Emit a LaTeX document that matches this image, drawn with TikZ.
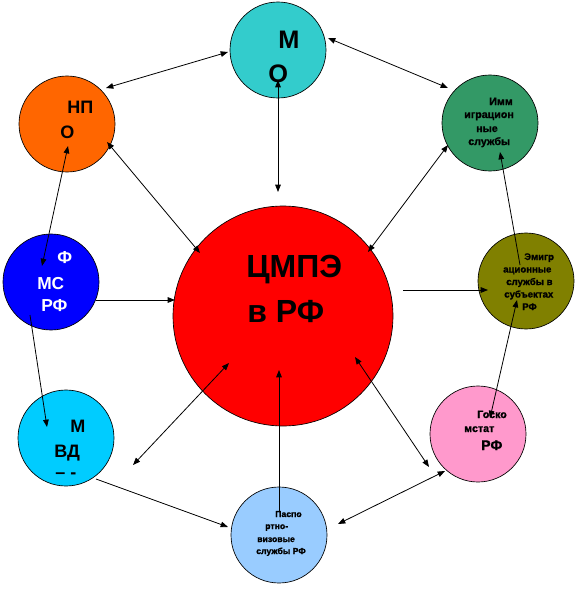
\documentclass[tikz,border=0pt]{standalone}
\usepackage{fontspec}
\setmainfont{Liberation Sans}
\newfontfamily\heavyfont[FakeBold=1.2]{Liberation Sans Bold}
\usetikzlibrary{calc,arrows.meta}
\definecolor{cmo}{HTML}{33CCCC}
\definecolor{cnpo}{HTML}{FF6600}
\definecolor{cfms}{HTML}{0000FF}
\definecolor{cmvd}{HTML}{00CCFF}
\definecolor{cpvs}{HTML}{99CCFF}
\definecolor{cgsk}{HTML}{FF99CC}
\definecolor{cemi}{HTML}{808000}
\definecolor{cimm}{HTML}{339966}
\definecolor{ccen}{HTML}{FF0000}
\tikzset{
  bub/.style={circle, draw=black, line width=0.5pt, minimum size=72pt, inner sep=0pt},
  big/.style={circle, draw=black, line width=0.5pt, minimum size=165pt, inner sep=0pt},
  txt/.style={anchor=base west, inner sep=0pt, font=\bfseries\fontsize{#1}{#1}\selectfont},
  stxt/.style={anchor=base west, inner sep=0pt, font=\heavyfont\fontsize{#1}{#1}\selectfont},
  arr/.style={-{Triangle[length=5.5pt,width=4.2pt]}, line width=0.6pt},
  darr/.style={{Triangle[length=5.5pt,width=4.2pt]}-{Triangle[length=5.5pt,width=4.2pt]}, line width=0.6pt}
}
\begin{document}
\begin{tikzpicture}[x=0.75pt,y=-0.75pt]
\useasboundingbox (0,0) rectangle (579,589);
% circles
\node[big, fill=ccen] (c) at (283,316) {};
\node[bub, fill=cmo]  (mo)  at (278,50) {};
\node[bub, fill=cnpo] (npo) at (67,124) {};
\node[bub, fill=cfms] (fms) at (51,282) {};
\node[bub, fill=cmvd] (mvd) at (66,438) {};
\node[bub, fill=cpvs] (pvs) at (279,535) {};
\node[bub, fill=cgsk] (gsk) at (478,434) {};
\node[bub, fill=cemi] (emi) at (526,281) {};
\node[bub, fill=cimm] (imm) at (490,123) {};
% texts
\node[txt=24] (c1) at (246,277) {ЦМПЭ};
\node[txt=24] (c2) at (247,322) {в РФ};
\node[txt=19] (mo1) at (278,48) {М};
\node[txt=19] (mo2) at (268,82) {О};
\node[txt=13.5] (npo1) at (67,113) {НП};
\node[txt=13.5] (npo2) at (60,138) {О};
\node[txt=13, text=white] (fms1) at (57,263) {Ф};
\node[txt=13, text=white] (fms2) at (37,289) {МС};
\node[txt=13, text=white] (fms3) at (41,311) {РФ};
\node[txt=13.5] (mvd1) at (70,432) {М};
\node[txt=13.5] (mvd2) at (54,457) {ВД};
\node[txt=13.5] (mvd3) at (55,478) {– -};
\node[stxt=6.5] (pvs1) at (275,517) {Паспо};
\node[stxt=6.5] (pvs2) at (265,529) {ртно-};
\node[stxt=6.5] (pvs3) at (257,542) {визовые};
\node[stxt=6.5] (pvs4) at (256,554) {службы РФ};
\node[stxt=8] (gsk1) at (477,418) {Госко};
\node[stxt=8] (gsk2) at (464,432) {мстат};
\node[stxt=10.5] (gsk3) at (481,450) {РФ};
\node[stxt=7.2] (emi1) at (524,260) {Эмигр};
\node[stxt=7.2] (emi2) at (503,272.5) {ационные};
\node[stxt=7.2] (emi3) at (506,285) {службы в};
\node[stxt=7.2] (emi4) at (504,297.5) {субъектах};
\node[stxt=7.2] (emi5) at (522,310) {РФ};
\node[stxt=8] (imm1) at (489,105) {Имм};
\node[stxt=8] (imm2) at (464,118) {играцион};
\node[stxt=8] (imm3) at (476,132) {ные};
\node[stxt=8] (imm4) at (468,145) {службы};
% connectors
\draw[darr] ($(npo)+(39,-36)$) -- ($(mo)+(-50,2)$);
\draw[darr] ($(mo)+(50,-12)$) -- ($(imm)+(-42,-35)$);
\draw[darr] ($(mo)+(0,30)$) -- ($(c)+(-5,-124)$);
\draw[darr] ($(npo)+(40,18)$) -- ($(c)+(-83,-63)$);
\draw[darr] ($(npo)+(1,22)$) -- ($(fms)+(-9,-16)$);
\draw[arr]  ($(fms)+(45,18)$) -- ($(c)+(-108,-16)$);
\draw[arr]  ($(fms)+(-21,33)$) -- ($(mvd)+(-19,-11)$);
\draw[arr]  ($(mvd)+(30,41)$) -- ($(pvs)+(-51,-8)$);
\draw[darr] ($(c)+(-54,47)$) -- ($(mvd)+(67,27)$);
\draw[arr]  ($(pvs)+(0,-23)$) -- ($(c)+(-4,54)$);
\draw[darr] ($(pvs)+(59,-11)$) -- ($(gsk)+(-33,37)$);
\draw[darr] ($(c)+(72,41)$) -- ($(gsk)+(-49,33)$);
\draw[darr] ($(gsk)+(12,-16)$) -- ($(emi)+(-9,19)$);
\draw[arr]  ($(emi)+(-6,-16)$) -- ($(imm)+(10,29)$);
\draw[darr] ($(c)+(85,-64)$) -- ($(imm)+(-42,22)$);
\draw[arr]  ($(c)+(120,-26)$) -- ($(emi)+(-38,9)$);
\end{tikzpicture}
\end{document}
